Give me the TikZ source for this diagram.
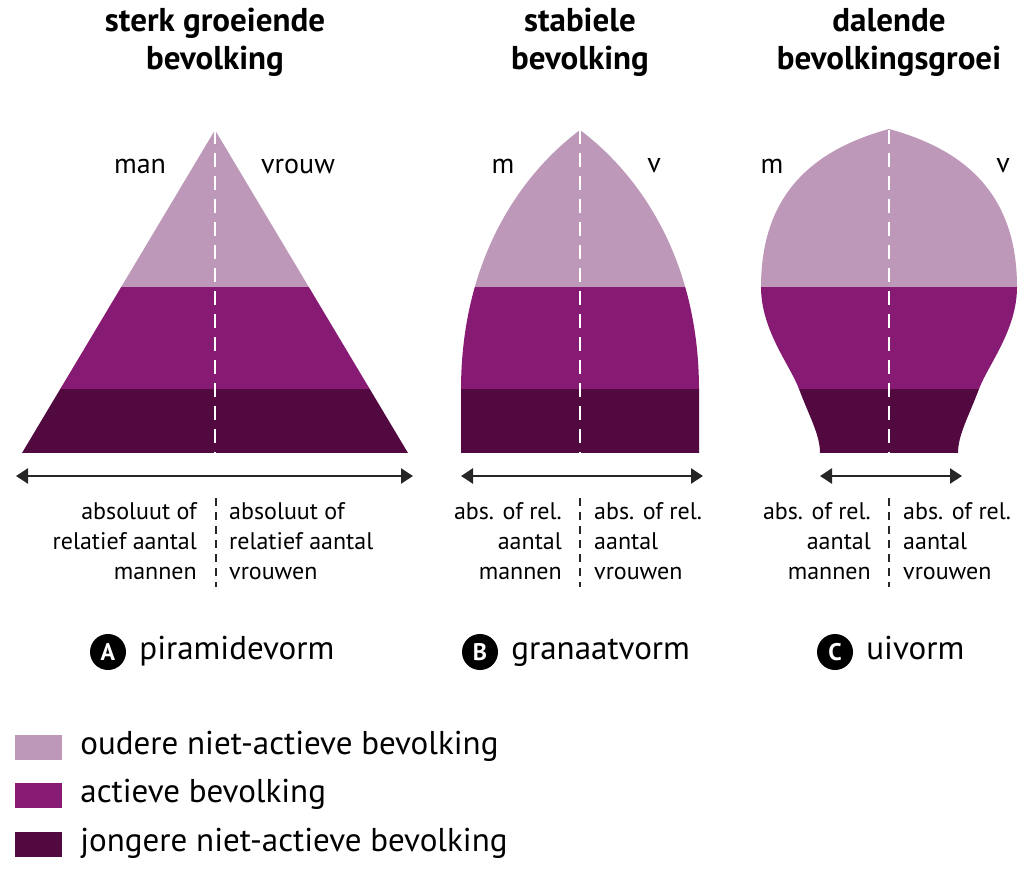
\documentclass[tikz,border=0pt]{standalone}
\usepackage{fontspec}
\setmainfont{PT Sans}
\usetikzlibrary{arrows.meta,positioning}

\definecolor{oud}{HTML}{BE98B8}
\definecolor{actief}{HTML}{871A73}
\definecolor{jong}{HTML}{510940}

% the three age bands, clipped by the outline in force
\newcommand{\leeftijdsbanden}[2]{%
  \fill[oud] (#1,100) rectangle (#2,287);
  \fill[actief] (#1,287) rectangle (#2,389);
  \fill[jong] (#1,389) rectangle (#2,453);}

\begin{document}
\begin{tikzpicture}[x=1pt,y=-1pt,
  titel/.style={font=\bfseries\fontsize{33}{38}\selectfont,align=center,inner sep=0pt},
  geslacht/.style={font=\fontsize{28}{30}\selectfont,inner sep=0pt},
  aslabel/.style={font=\fontsize{24}{30}\selectfont,inner sep=0pt},
  vormlabel/.style={font=\fontsize{33}{36}\selectfont,inner sep=0pt,text height=0.72em,text depth=0.22em,yshift=-5pt},
  letter/.style={circle,fill=black,text=white,font=\bfseries\fontsize{24}{24}\selectfont,minimum size=36pt,inner sep=0pt},
  middenlijn/.style={white,line width=2pt,dash pattern=on 14pt off 9pt},
  scheiding/.style={black!85,line width=1.5pt,dash pattern=on 8pt off 6pt},
  breedte/.style={{Triangle[length=12pt,width=15pt]}-{Triangle[length=12pt,width=15pt]},line width=2.5pt,black!85}]
  \useasboundingbox (0,0) rectangle (1024,871);

  % A: piramide
  \begin{scope}
    \clip (215,130) -- (408,453) -- (22,453) -- cycle;
    \leeftijdsbanden{0}{420}
  \end{scope}
  % B: granaat
  \begin{scope}
    \clip (580,130) .. controls (640,175) and (699,260) .. (699,390) -- (699,453)
      -- (461,453) -- (461,390) .. controls (461,260) and (520,175) .. (580,130) -- cycle;
    \leeftijdsbanden{440}{720}
  \end{scope}
  % C: ui
  \begin{scope}
    \clip (889,129) .. controls (966,150) and (1017,195) .. (1017,287)
      .. controls (1017,330) and (988,365) .. (979,389)
      .. controls (968,418) and (958,435) .. (958,453) -- (820,453)
      .. controls (820,435) and (810,418) .. (799,389)
      .. controls (790,365) and (761,330) .. (761,287)
      .. controls (761,195) and (812,150) .. (889,129) -- cycle;
    \leeftijdsbanden{740}{1024}
  \end{scope}

  \foreach \x in {215,580,889}
    \draw[middenlijn] (\x,130) -- (\x,453);

  % titels
  \node[titel] (tA) at (215,42) {sterk groeiende\\bevolking};
  \node[titel] (tB) at (580,42) {stabiele\\bevolking};
  \node[titel] (tC) at (889,42) {dalende\\bevolkingsgroei};

  % m / v
  \foreach \naam/\x/\lab in {manA/140/man,vrouwA/298/vrouw,manB/503/m,vrouwB/654/v,manC/772/m,vrouwC/1003/v}
    \node[geslacht] (\naam) at (\x,166) {\lab};

  % breedte-as
  \foreach \naam/\links/\rechts in {A/16/413,B/461/703,C/820/962} {
    \coordinate (l\naam) at (\links,476);
    \coordinate (r\naam) at (\rechts,476);
    \draw[breedte] (l\naam) -- (r\naam);
  }

  % aantallen mannen / vrouwen
  \foreach \naam/\x in {A/216,B/580,C/889} {
    \coordinate (s\naam) at (\x,498);
    \coordinate (e\naam) at (\x,587);
    \draw[scheiding] (s\naam) -- (e\naam);
  }
  \node[aslabel,align=right,anchor=north east] (mA) at (197,502) {absoluut of\\relatief aantal\\mannen};
  \node[aslabel,align=left,anchor=north west] (vA) at (229,502) {absoluut of\\relatief aantal\\vrouwen};
  \node[aslabel,align=right,anchor=north east] (mB) at (562,502) {abs. of rel.\\aantal\\mannen};
  \node[aslabel,align=left,anchor=north west] (vB) at (594,502) {abs. of rel.\\aantal\\vrouwen};
  \node[aslabel,align=right,anchor=north east] (mC) at (871,502) {abs. of rel.\\aantal\\mannen};
  \node[aslabel,align=left,anchor=north west] (vC) at (903,502) {abs. of rel.\\aantal\\vrouwen};

  % vormen
  \node[letter] (cA) at (108,652) {A};
  \node[vormlabel,right=13pt of cA] (nA) {piramidevorm};
  \node[letter] (cB) at (480,652) {B};
  \node[vormlabel,right=13pt of cB] (nB) {granaatvorm};
  \node[letter] (cC) at (835,652) {C};
  \node[vormlabel,right=13pt of cC] (nC) {uivorm};

  % legenda
  \foreach \kleur/\y/\tekst in {oud/747/oudere niet-actieve bevolking,actief/795/actieve bevolking,jong/844/jongere niet-actieve bevolking} {
    \node[fill=\kleur,minimum width=47pt,minimum height=25pt,inner sep=0pt] (vak\kleur) at (38.5,\y) {};
    \node[vormlabel,right=18pt of vak\kleur] (leg\kleur) {\tekst};
  }
\end{tikzpicture}
\end{document}
